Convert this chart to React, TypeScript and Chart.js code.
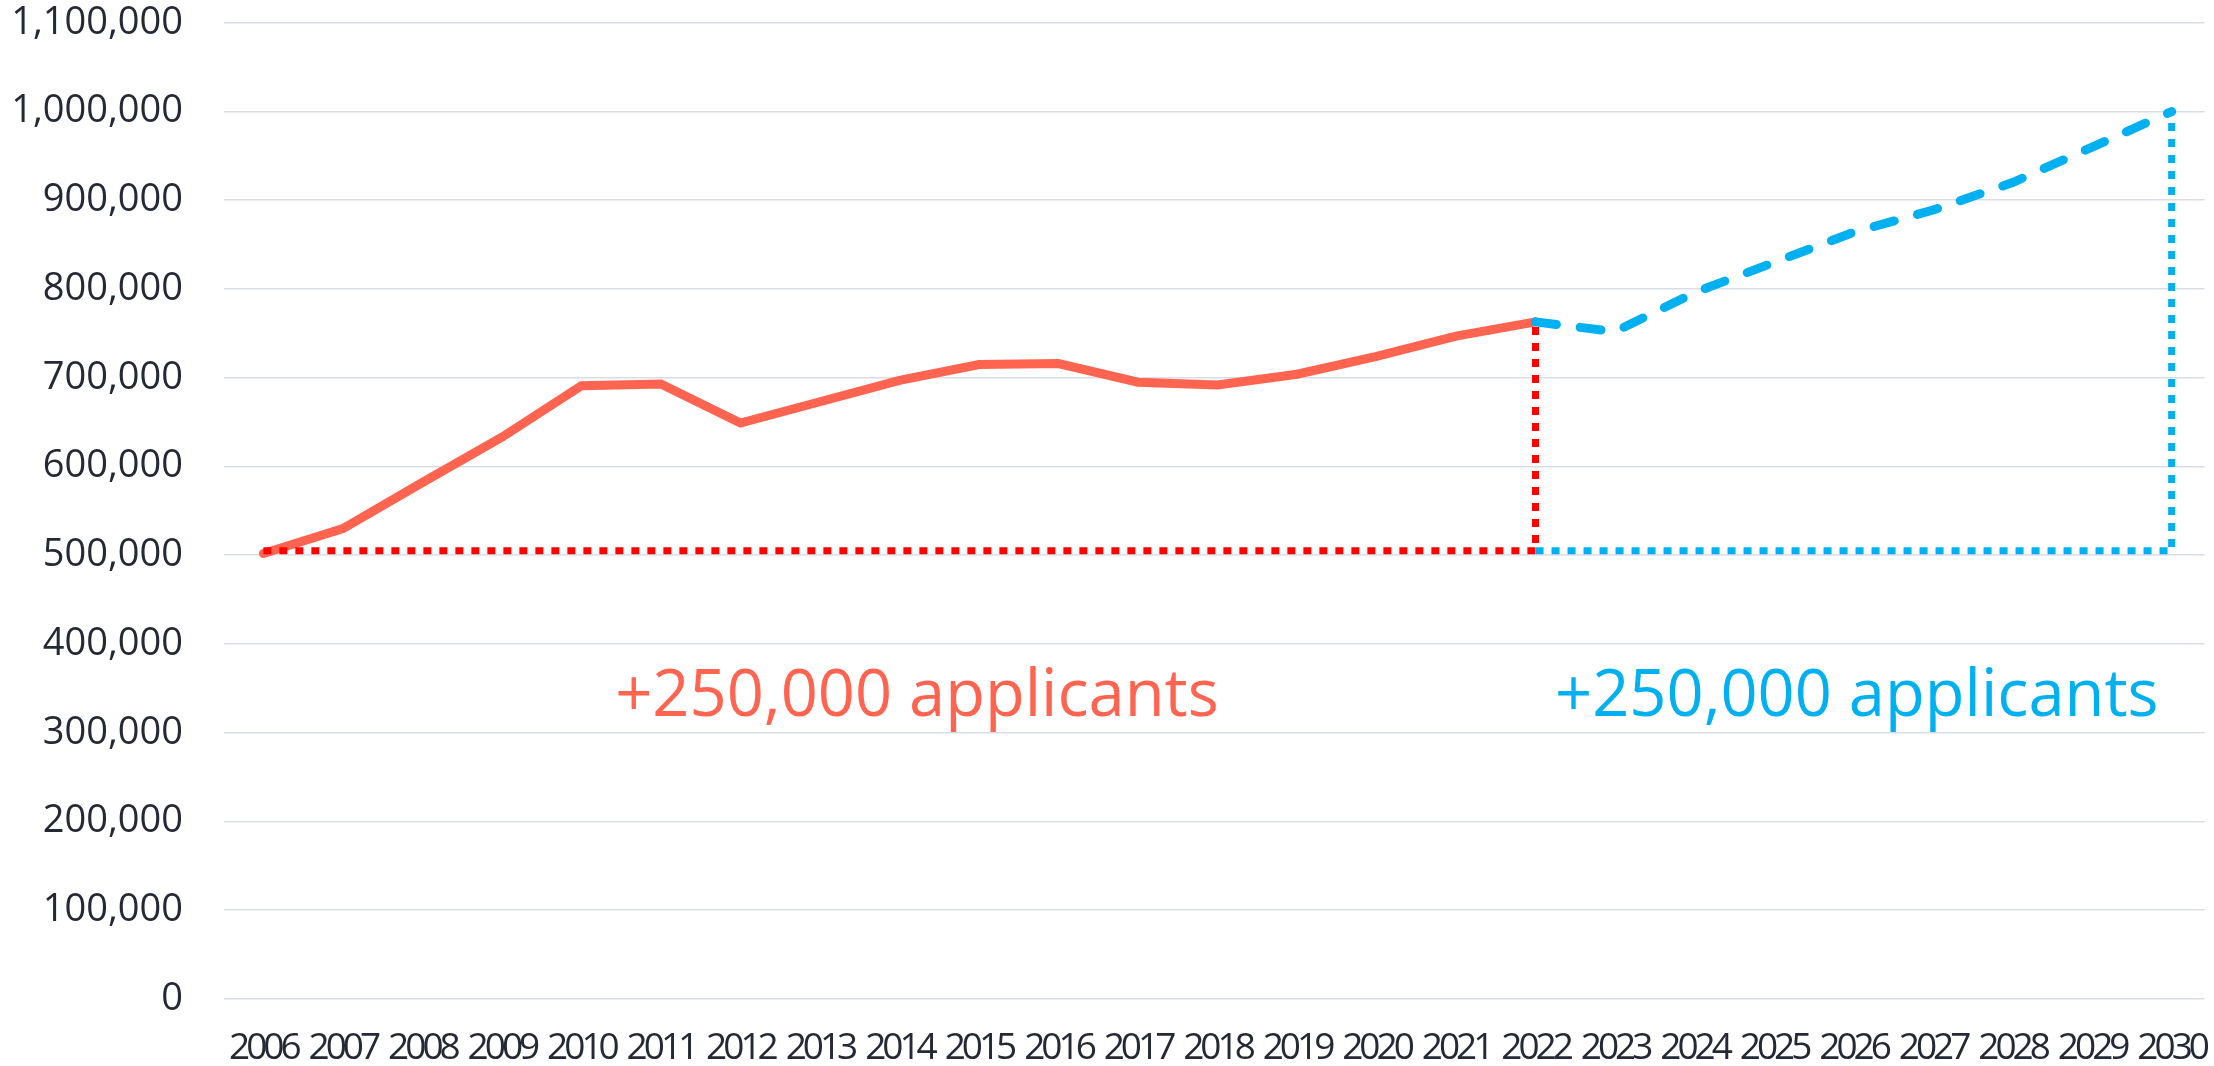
import React, { useEffect, useRef } from 'react';
import { Chart, registerables } from 'chart.js';

Chart.register(...registerables);

const YEARS = [
  '2006', '2007', '2008', '2009', '2010', '2011', '2012', '2013', '2014', '2015', '2016', '2017', '2018',
  '2019', '2020', '2021', '2022', '2023', '2024', '2025', '2026', '2027', '2028', '2029', '2030',
];

const ACTUAL = [
  502000, 530000, 582000, 633000, 691000, 693000, 649000, 673000, 697000, 715000, 716000, 695000, 692000,
  704000, 724000, 747000, 763000, null, null, null, null, null, null, null, null,
];

const PROJECTED = [
  null, null, null, null, null, null, null, null, null, null, null, null, null,
  null, null, null, 763000, 752000, 796000, 830000, 864000, 889000, 920000, 960000, 1000000,
];

const RED_GUIDE = [
  { x: '2006', y: 505000 },
  { x: '2022', y: 505000 },
  { x: '2022', y: 763000 },
];

const BLUE_GUIDE = [
  { x: '2022', y: 505000 },
  { x: '2030', y: 505000 },
  { x: '2030', y: 1000000 },
];

const Y_MIN = 0;
const Y_MAX = 1100000;
const Y_STEP = 100000;

const ANNOTATION_TEXT = ['+250,000 applicants', '+250,000 applicants'];
const ANNOTATION_X = [8.22, 20.04];
const ANNOTATION_Y = [318700, 318700];
const ANNOTATION_COLORS = ['#FF6450', '#00B0F0'];

const CORAL = '#FF6450';
const BLUE = '#00B0F0';
const RED = '#FF0000';
const TEXT = '#232935';
const GRID = '#d9dde7';

const annotationPlugin = {
  id: 'annotationText',
  afterDatasetsDraw(chart: any) {
    const ctx = chart.ctx;
    const xs = chart.scales.x;
    const ys = chart.scales.y;
    ctx.save();
    ctx.font = "65px 'Open Sans'";
    ctx.textAlign = 'center';
    ctx.textBaseline = 'alphabetic';
    ANNOTATION_TEXT.forEach((t, i) => {
      ctx.fillStyle = ANNOTATION_COLORS[i];
      ctx.fillText(t, xs.getPixelForValue(ANNOTATION_X[i]), ys.getPixelForValue(ANNOTATION_Y[i]));
    });
    ctx.restore();
  },
};

function condenseLabels(scale: any) {
  if (scale.__condensed) return;
  scale.__condensed = true;
  const orig = scale.drawLabels.bind(scale);
  scale.drawLabels = (area: any) => {
    const ctx = scale.ctx;
    const prev = ctx.letterSpacing;
    ctx.letterSpacing = '-4px';
    orig(area);
    ctx.letterSpacing = prev || '0px';
  };
}

export default function App() {
  const ref = useRef<HTMLCanvasElement | null>(null);

  useEffect(() => {
    document.body.style.margin = '0';
    const canvas = ref.current;
    if (!canvas) return;
    const chart = new Chart(canvas, {
      type: 'line',
      data: {
        labels: YEARS,
        datasets: [
          {
            label: 'red guide',
            data: RED_GUIDE as any,
            borderColor: RED,
            borderWidth: 7,
            borderDash: [8, 8],
            borderCapStyle: 'butt',
            pointRadius: 0,
            fill: false,
            order: 0,
          },
          {
            label: 'blue guide',
            data: BLUE_GUIDE as any,
            borderColor: BLUE,
            borderWidth: 7,
            borderDash: [8, 8],
            borderCapStyle: 'butt',
            pointRadius: 0,
            fill: false,
            order: 1,
          },
          {
            label: 'Projected',
            data: PROJECTED,
            borderColor: BLUE,
            borderWidth: 9,
            borderDash: [21, 24],
            borderCapStyle: 'round',
            pointRadius: 0,
            fill: false,
            order: 2,
          },
          {
            label: 'Applicants',
            data: ACTUAL,
            borderColor: CORAL,
            borderWidth: 9,
            borderCapStyle: 'round',
            pointRadius: 0,
            fill: false,
            order: 3,
          },
        ],
      },
      options: {
        animation: false,
        responsive: false,
        layout: { padding: { left: 0, top: 22, right: 3, bottom: 0 } },
        plugins: {
          legend: { display: false },
          tooltip: { enabled: false },
        },
        scales: {
          x: {
            type: 'category',
            offset: true,
            grid: { display: false, drawTicks: true, tickLength: 27, tickColor: 'rgba(0,0,0,0)' },
            border: { display: false },
            ticks: {
              autoSkip: false,
              maxRotation: 0,
              minRotation: 0,
              padding: 0,
              color: TEXT,
              font: { family: "'Open Sans'", size: 37 },
            },
            afterBuildTicks: (scale: any) => {
              // category band: first point slightly inset, last point near the right edge
              scale._startValue = -0.495;
              scale._valueRange = 24.91;
            },
            afterFit: (scale: any) => {
              scale.height = 67;
              condenseLabels(scale);
            },
          },
          y: {
            min: Y_MIN,
            max: Y_MAX,
            grid: { color: GRID, lineWidth: 1.6, drawTicks: true, tickLength: 41, tickColor: 'rgba(0,0,0,0)' },
            border: { display: false },
            ticks: {
              stepSize: Y_STEP,
              padding: 0,
              color: TEXT,
              font: { family: "'Open Sans'", size: 38 },
              callback: (v: any) => Number(v).toLocaleString('en-US'),
            },
            afterFit: (scale: any) => {
              scale.width = 224;
            },
          },
        },
      },
      plugins: [annotationPlugin],
    });
    return () => chart.destroy();
  }, []);

  return (
    <div style={{ width: 2214, height: 1066, background: '#fff' }}>
      <canvas ref={ref} width={2214} height={1066} style={{ display: 'block', width: 2214, height: 1066 }} />
    </div>
  );
}
